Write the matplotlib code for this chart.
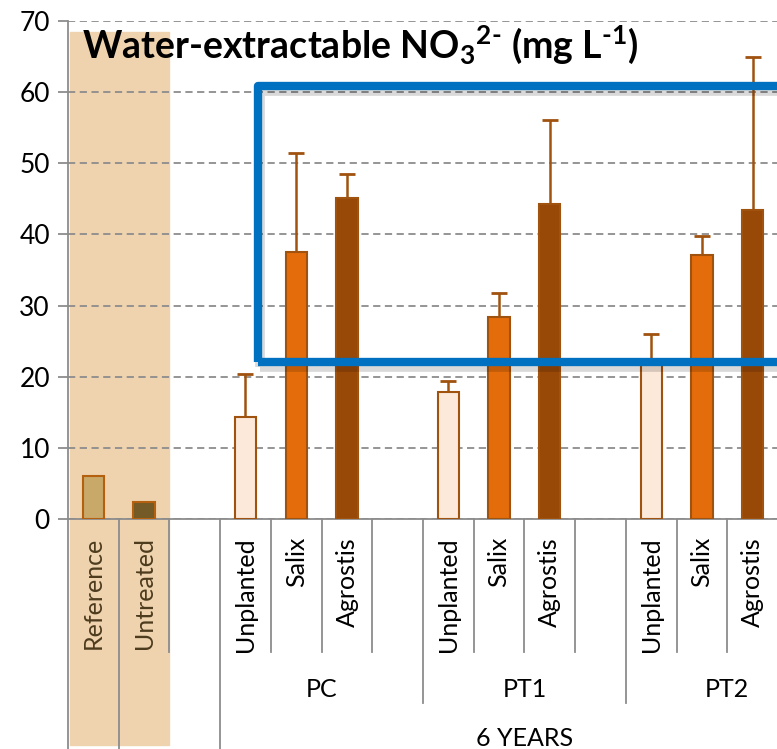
import matplotlib
matplotlib.use("Agg")
import matplotlib.pyplot as plt
from matplotlib.patches import Rectangle
from matplotlib.lines import Line2D
import matplotlib.transforms as mtransforms

# Data
slot_labels = ["Reference", "Untreated", "",
               "Unplanted", "Salix", "Agrostis", "",
               "Unplanted", "Salix", "Agrostis", "",
               "Unplanted", "Salix", "Agrostis"]
base_values = [6.0, 2.4]
pc_values = [14.3, 37.5, 45.1]
pc_err_top = [20.4, 51.4, 48.5]
pt1_values = [17.9, 28.4, 44.3]
pt1_err_top = [19.4, 31.8, 56.1]
pt2_values = [22.0, 37.1, 43.4]
pt2_err_top = [26.0, 39.8, 64.9]
groups = ["PC", "PT1", "PT2"]
period = "6 YEARS"

plt.rcParams["font.family"] = ["Lato", "DejaVu Sans"]
plt.rcParams["mathtext.fontset"] = "custom"
plt.rcParams["mathtext.rm"] = "Lato:bold"
plt.rcParams["mathtext.bf"] = "Lato:bold"
plt.rcParams["mathtext.it"] = "Lato:bold"

edge = "#A0520F"
fills = ["#FCE9DA", "#E46C0A", "#984807"]

fig = plt.figure(figsize=(7.77, 7.49), dpi=100)
ax = fig.add_axes([68 / 777, 1 - 519 / 749, 710 / 777, 498 / 749])
ax.set_facecolor("none")

# beige highlight behind the baseline columns
fig.patches.append(Rectangle((70 / 777, 4 / 749), 99 / 777, 713 / 749,
                             transform=fig.transFigure, color="#EED3AE",
                             zorder=-1))

w = 0.42
ax.bar([0, 1], base_values, width=w, color=["#C8A96A", "#735A26"],
       edgecolor="#B5600E", linewidth=1.5, zorder=3)

for start, vals, tops in [(3, pc_values, pc_err_top),
                          (7, pt1_values, pt1_err_top),
                          (11, pt2_values, pt2_err_top)]:
    xs = [start + i for i in range(3)]
    ax.bar(xs, vals, width=w, color=fills, edgecolor=edge, linewidth=1.5,
           zorder=3)
    ax.errorbar(xs, vals, yerr=[[0] * 3, [t - v for t, v in zip(tops, vals)]],
                fmt="none", ecolor=edge, elinewidth=1.8, capsize=6,
                capthick=2, zorder=2)

ax.set_xlim(-0.5, 13.5)
ax.set_ylim(0, 70)
ax.set_yticks(range(0, 71, 10))
ax.yaxis.grid(True, linestyle=(0, (4, 2.5)), color="#8C8C8C", linewidth=1.3)
ax.set_axisbelow(True)
for s in ["top", "right"]:
    ax.spines[s].set_visible(False)
ax.spines["left"].set_color("#8C8C8C")
ax.spines["bottom"].set_color("#8C8C8C")
ax.spines["left"].set_linewidth(1.3)
ax.spines["bottom"].set_linewidth(1.3)
ax.tick_params(axis="y", labelsize=19, length=7, width=1.3, color="#8C8C8C",
               pad=6)
ax.set_xticks(range(len(slot_labels)))
ax.set_xticklabels(slot_labels, rotation=90, fontsize=18)
ax.tick_params(axis="x", length=0, pad=13)
for lbl in ax.get_xticklabels()[:2]:
    lbl.set_color("#4D3B1E")

# category separators below the axis
tr = ax.get_xaxis_transform()
long_edges = [0, 1, 3, 14]
mid_edges = [7, 11]
for k in range(15):
    if k in long_edges:
        y1 = -0.6
    elif k in mid_edges:
        y1 = -0.3695
    else:
        y1 = -0.267
    ax.add_line(Line2D([k - 0.5, k - 0.5], [0, y1], transform=tr,
                       color="#8C8C8C", linewidth=1.3, clip_on=False))

for g, c in zip(groups, [4.5, 8.5, 12.5]):
    ax.text(c, -0.343, g, transform=tr, ha="center", va="center", fontsize=18)
ax.text(8.5, -0.44, period, transform=tr, ha="center", va="center",
        fontsize=18)

# blue highlight box with a soft shadow
shadow_tr = mtransforms.offset_copy(ax.transData, fig, x=2, y=-5, units="dots")
ax.add_patch(Rectangle((3.25, 22.1), 11.5, 38.8, fill=False,
                       edgecolor="#000000", alpha=0.15, linewidth=7,
                       transform=shadow_tr, clip_on=False, zorder=4))
ax.add_patch(Rectangle((3.25, 22.1), 11.5, 38.8, fill=False,
                       edgecolor="#0070C0", linewidth=6, joinstyle="round",
                       clip_on=False, zorder=5))

fig.text(82 / 777, 1 - 45 / 749,
         r"Water-extractable NO$_3$$^{2\text{-}}$ (mg L$^{\text{-}1}$)",
         fontsize=27, fontweight="bold", ha="left", va="center", zorder=6)

fig.savefig("out.png", dpi=100)
